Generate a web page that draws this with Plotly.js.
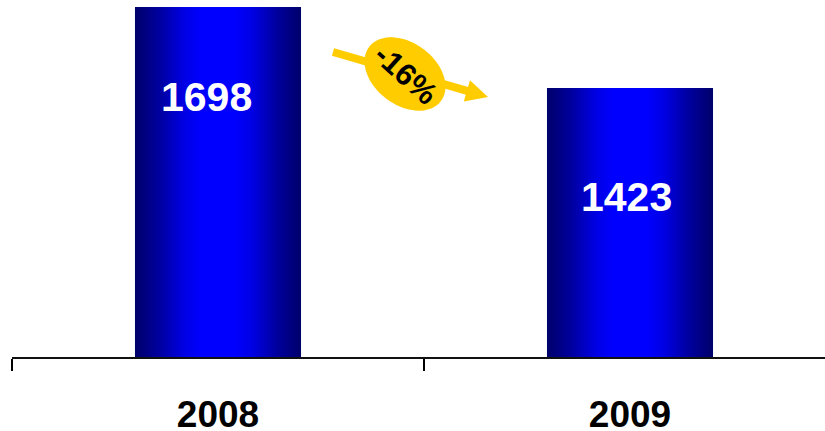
<!DOCTYPE html>
<html>
<head>
<meta charset="utf-8">
<script src="https://cdn.plot.ly/plotly-3.0.1.min.js"></script>
<style>html,body{margin:0;padding:0;background:#fff;}#chart{width:825px;height:431px;}</style>
</head>
<body>
<div id="chart"></div>
<script>
// ---- data ----
const years = ['2008', '2009'];
const volumes = [1698, 1423];
const changeLabel = '-16%';

// ---- layout helpers (pixel geometry of the figure) ----
const W = 825, H = 431;
const ML = 12, MR = 0, MT = 0, MB = 74;
const PW = W - ML - MR, PH = H - MT - MB;
function px(x) { return (x - ML) / PW; }          // screen x -> paper x
function py(y) { return 1 - (y - MT) / PH; }      // screen y -> paper y

// label offsets (pixels) for the value labels inside the bars
const labelShiftX = [-12, -4];
const labelShiftY = [-90, -109];

// arrow geometry (screen pixels)
const tail = [333, 52], tip = [488, 97], headLen = 22, headHalf = 11;
const dx = tip[0] - tail[0], dy = tip[1] - tail[1], L = Math.hypot(dx, dy);
const ux = dx / L, uy = dy / L;
const base = [tip[0] - headLen * ux, tip[1] - headLen * uy];
const c1 = [base[0] - headHalf * uy, base[1] + headHalf * ux];
const c2 = [base[0] + headHalf * uy, base[1] - headHalf * ux];

// ellipse badge
const ec = [405, 74], ea = 45, eb = 31, eth = 37 * Math.PI / 180;
let ePath = '';
for (let i = 0; i <= 72; i++) {
  const t = i / 72 * 2 * Math.PI;
  const sx = ec[0] + ea * Math.cos(t) * Math.cos(eth) - eb * Math.sin(t) * Math.sin(eth);
  const sy = ec[1] + ea * Math.cos(t) * Math.sin(eth) + eb * Math.sin(t) * Math.cos(eth);
  ePath += (i === 0 ? 'M' : 'L') + px(sx).toFixed(5) + ',' + py(sy).toFixed(5);
}
ePath += 'Z';

const yellow = '#FFCC00';

const trace = {
  type: 'bar',
  x: years,
  y: volumes,
  width: 0.403,
  marker: { color: '#0000CC', line: { width: 0 } },
  hoverinfo: 'skip'
};

const annotations = volumes.map((v, i) => ({
  x: i, y: v, xref: 'x', yref: 'y',
  text: String(v), showarrow: false,
  xshift: labelShiftX[i], yshift: labelShiftY[i],
  xanchor: 'center', yanchor: 'middle',
  font: { family: 'Liberation Sans, Arial, sans-serif', size: 41, color: '#ffffff', weight: 'bold' }
}));
annotations.push({
  x: px(406), y: py(74), xref: 'paper', yref: 'paper',
  text: changeLabel, showarrow: false, textangle: 42,
  xanchor: 'center', yanchor: 'middle',
  font: { family: 'Liberation Sans, Arial, sans-serif', size: 31, color: '#000000', weight: 'bold' }
});

const layout = {
  width: W, height: H,
  margin: { l: ML, r: MR, t: MT, b: MB, pad: 0 },
  paper_bgcolor: '#ffffff', plot_bgcolor: '#ffffff',
  showlegend: false,
  xaxis: {
    type: 'category',
    range: [-0.5, 1.5 - 11 / 412],
    showline: true, linecolor: '#111111', linewidth: 2,
    ticks: 'outside', tickson: 'boundaries', ticklen: 12, tickwidth: 2, tickcolor: '#000000',
    showgrid: false, zeroline: false,
    ticklabelstandoff: 24,
    tickfont: { family: 'Liberation Sans, Arial, sans-serif', size: 37, color: '#000000', weight: 'bold' }
  },
  yaxis: {
    range: [509.7, 1721.7],
    visible: false, showgrid: false, zeroline: false
  },
  shapes: [
    { type: 'line', xref: 'paper', yref: 'paper',
      x0: px(tail[0]), y0: py(tail[1]), x1: px(base[0] + 2 * ux), y1: py(base[1] + 2 * uy),
      line: { color: yellow, width: 8 } },
    { type: 'path', xref: 'paper', yref: 'paper',
      path: 'M' + px(tip[0]) + ',' + py(tip[1]) + 'L' + px(c1[0]) + ',' + py(c1[1]) + 'L' + px(c2[0]) + ',' + py(c2[1]) + 'Z',
      fillcolor: yellow, line: { width: 0 } },
    { type: 'path', xref: 'paper', yref: 'paper', path: ePath,
      fillcolor: yellow, line: { width: 0 } }
  ],
  annotations: annotations
};

function applyGradient(gd) {
  const ns = 'http://www.w3.org/2000/svg';
  const svg = gd.querySelector('svg.main-svg');
  if (!svg) return;
  let defs = svg.querySelector('defs');
  if (!defs) { defs = document.createElementNS(ns, 'defs'); svg.insertBefore(defs, svg.firstChild); }
  if (!svg.querySelector('#barGrad')) {
    const g = document.createElementNS(ns, 'linearGradient');
    g.setAttribute('id', 'barGrad');
    g.setAttribute('x1', '0'); g.setAttribute('y1', '0');
    g.setAttribute('x2', '1'); g.setAttribute('y2', '0');
    [[0, '#00006A'], [0.15, '#0000A0'], [0.3, '#0000E6'], [0.4, '#0000FF'], [0.6, '#0000FF'], [0.7, '#0000E6'], [0.85, '#0000A0'], [1, '#00006A']]
      .forEach(([o, c]) => {
        const s = document.createElementNS(ns, 'stop');
        s.setAttribute('offset', o); s.setAttribute('stop-color', c);
        g.appendChild(s);
      });
    defs.appendChild(g);
  }
  gd.querySelectorAll('.trace.bars .point path').forEach(p => { p.style.fill = 'url(#barGrad)'; });
}

const gd = document.getElementById('chart');
Plotly.newPlot(gd, [trace], layout, { staticPlot: true, displayModeBar: false }).then(() => {
  applyGradient(gd);
  gd.on && gd.on('plotly_afterplot', () => applyGradient(gd));
});
</script>
</body>
</html>
